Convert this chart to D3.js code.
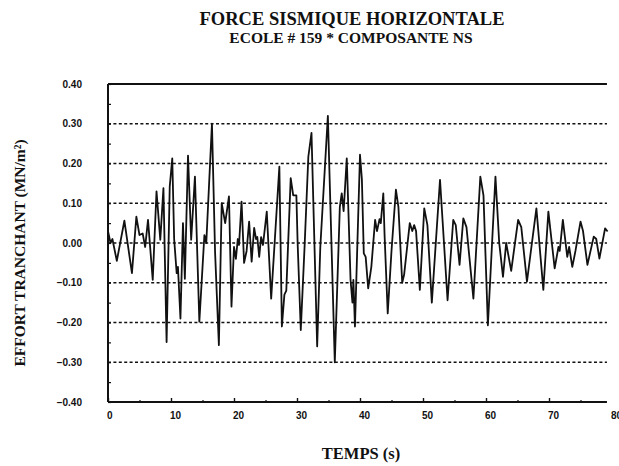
<!DOCTYPE html>
<html>
<head>
<meta charset="utf-8">
<script src="https://cdn.jsdelivr.net/npm/d3@7"></script>
<style>
    body { margin: 0; background: #fff; }
    #chart-area { width: 619px; height: 466px; }
    .serif { font-family: "Liberation Serif", "DejaVu Serif", serif; font-weight: bold; fill: #111; }
    .tick-lbl { font-family: "Liberation Sans", Arial, sans-serif; font-weight: bold; font-size: 10px; fill: #111; }
</style>
</head>
<body>
<div id="chart-area"></div>
<script>
// time (s) and shear force (MN/m2)
const temps = [0.0, 0.4, 0.7, 1.4, 2.6, 3.8, 4.5, 5.0, 5.5, 5.9, 6.35, 7.1, 7.7, 8.3, 8.8, 9.3, 9.8, 10.2,
    10.5, 10.9, 11.1, 11.5, 11.9, 12.2, 12.7, 13.2, 13.8, 14.5, 15.3, 15.6, 16.5, 17.0, 17.6, 18.05,
    18.6, 19.2, 19.6, 20.0, 20.3, 20.6, 20.8, 21.2, 21.6, 22.0, 22.4, 22.8, 23.2, 23.5, 23.7, 24.0,
    24.3, 24.6, 25.2, 25.9, 27.2, 27.6, 28.0, 28.3, 29.0, 29.4, 29.9, 30.1, 30.6, 31.2, 31.8, 32.3,
    33.2, 33.7, 34.9, 36.0, 36.8, 37.1, 37.4, 37.9, 38.5, 38.8, 38.95, 39.2, 40.0, 40.3, 40.6, 40.9,
    41.3, 41.8, 42.4, 42.7, 43.1, 43.3, 43.7, 43.9, 44.4, 45.0, 45.7, 46.1, 46.7, 47.0, 47.9, 48.3,
    48.6, 48.9, 49.5, 50.2, 50.7, 51.4, 52.7, 53.9, 54.8, 55.2, 55.8, 56.4, 56.9, 58.0, 59.1, 59.6,
    60.3, 61.5, 62.1, 62.7, 63.2, 64.0, 65.1, 65.6, 66.5, 68.0, 69.1, 69.9, 70.9, 71.5, 71.7, 72.2,
    72.9, 73.2, 73.7, 74.2, 75.0, 75.4, 76.1, 77.1, 77.5, 78.0, 78.9, 79.3];
const effort = [0.03, 0.00, 0.01, -0.045, 0.056, -0.076, 0.066, 0.02, 0.024, -0.01, 0.058, -0.093, 0.13, 0.008, 0.138, -0.249, 0.142, 0.213,
    0.01, -0.076, -0.06, -0.19, 0.05, -0.09, 0.22, 0.008, 0.167, -0.198, 0.02, 0.0, 0.30, -0.025, -0.257, 0.10,
    0.05, 0.117, -0.16, -0.01, -0.04, 0.01, -0.005, 0.104, -0.05, -0.02, 0.054, -0.047, 0.038, 0.01, 0.015, -0.035,
    0.015, -0.005, 0.079, -0.14, 0.192, -0.21, -0.13, -0.12, 0.163, 0.12, 0.12, 0.0, -0.219, -0.01, 0.217, 0.277,
    -0.26, -0.01, 0.32, -0.30, 0.091, 0.125, 0.08, 0.213, -0.093, -0.15, -0.093, -0.21, 0.222, 0.16, -0.026, -0.035,
    -0.114, -0.06, 0.058, 0.03, 0.06, 0.05, 0.125, 0.02, -0.177, -0.02, 0.134, 0.09, -0.10, -0.08, 0.05, 0.03,
    0.045, 0.03, -0.118, 0.087, 0.045, -0.15, 0.159, -0.144, 0.058, 0.045, -0.055, 0.062, 0.04, -0.14, 0.167, 0.12,
    -0.207, 0.167, 0.0, -0.085, 0.0, -0.07, 0.058, 0.04, -0.097, 0.087, -0.118, 0.079, -0.064, -0.01, -0.02, 0.058,
    -0.035, -0.01, -0.06, -0.02, 0.054, 0.03, -0.055, 0.016, 0.01, -0.039, 0.037, 0.029];

const yTicks = [0.40, 0.30, 0.20, 0.10, 0.00, -0.10, -0.20, -0.30, -0.40];
const yGrid = [0.30, 0.20, 0.10, 0.00, -0.10, -0.20, -0.30];
const xTicks = [0, 10, 20, 30, 40, 50, 60, 70, 80];

const titre = "FORCE SISMIQUE HORIZONTALE";
const sousTitre = "ECOLE # 159 * COMPOSANTE NS";
const xLabel = "TEMPS (s)";
const yLabel = "EFFORT TRANCHANT (MN/m²)";

function drawChart() {
    const W = 619, H = 466;

    var svg = d3.select("#chart-area")
        .append("svg")
        .attr("width", W)
        .attr("height", H);

    var x = d3.scaleLinear().domain([0, 80]).range([108, 612]);
    var y = d3.scaleLinear().domain([-0.4, 0.4]).range([402, 84]);
    var xEnd = x(79.2);

    // titles
    svg.append("text").attr("class", "serif")
        .attr("x", 352).attr("y", 25)
        .attr("text-anchor", "middle")
        .style("font-size", "18.5px")
        .text(titre);
    svg.append("text").attr("class", "serif")
        .attr("x", 351).attr("y", 43)
        .attr("text-anchor", "middle")
        .style("font-size", "15.5px")
        .text(sousTitre);

    // dotted grid
    svg.append("g").selectAll("line")
        .data(yGrid)
        .enter().append("line")
        .attr("x1", x(0)).attr("x2", xEnd)
        .attr("y1", d => y(d)).attr("y2", d => y(d))
        .attr("stroke", "#111")
        .attr("stroke-width", 1.4)
        .attr("stroke-dasharray", "3,2.4");

    // left axis, inward ticks every 0.05
    var yAxisCall = d3.axisRight(y)
        .tickValues(d3.range(-8, 9).map(i => i * 0.05))
        .tickSize(3)
        .tickFormat('');
    var yAxisGroup = svg.append("g")
        .attr("transform", `translate(${x(0)},0)`)
        .call(yAxisCall);
    yAxisGroup.select(".domain").remove();
    yAxisGroup.selectAll("line").attr("stroke", "#111").attr("stroke-width", 1.2);

    svg.append("g").selectAll("text")
        .data(yTicks)
        .enter().append("text")
        .attr("class", "tick-lbl")
        .attr("x", 82)
        .attr("y", d => y(d))
        .attr("dy", "0.35em")
        .attr("text-anchor", "end")
        .text(d => d3.format(".2f")(d));

    // bottom axis, inward ticks (major 10, minor 5)
    var xAxisCall = d3.axisTop(x)
        .tickValues(d3.range(0, 80, 10))
        .tickSize(4)
        .tickFormat('');
    var xAxisGroup = svg.append("g")
        .attr("transform", `translate(0,${y(-0.4)})`)
        .call(xAxisCall);
    xAxisGroup.select(".domain").remove();
    xAxisGroup.selectAll("line").attr("stroke", "#111").attr("stroke-width", 1.4);

    var xMinorCall = d3.axisTop(x)
        .tickValues(d3.range(5, 80, 10))
        .tickSize(2)
        .tickFormat('');
    var xMinorGroup = svg.append("g")
        .attr("transform", `translate(0,${y(-0.4)})`)
        .call(xMinorCall);
    xMinorGroup.select(".domain").remove();
    xMinorGroup.selectAll("line").attr("stroke", "#111").attr("stroke-width", 1.2);

    svg.append("g").selectAll("text")
        .data(xTicks)
        .enter().append("text")
        .attr("class", "tick-lbl")
        .attr("x", d => x(d) - 1)
        .attr("y", 419)
        .attr("text-anchor", "start")
        .text(d => d);

    // frame: left, bottom, top (no right side)
    var frame = svg.append("g").attr("stroke", "#111").attr("stroke-width", 2);
    frame.append("line").attr("x1", x(0)).attr("x2", x(0)).attr("y1", y(0.4)).attr("y2", y(-0.4));
    frame.append("line").attr("x1", x(0)).attr("x2", xEnd).attr("y1", y(-0.4)).attr("y2", y(-0.4));
    frame.append("line").attr("x1", x(0)).attr("x2", xEnd).attr("y1", y(0.4)).attr("y2", y(0.4));

    // the trace
    var pts = temps.map((t, i) => [t, effort[i]]);
    var line = d3.line()
        .x(d => x(d[0]))
        .y(d => y(d[1]))
        .curve(d3.curveLinear);
    svg.append("path")
        .datum(pts)
        .attr("d", line)
        .attr("fill", "none")
        .attr("stroke", "#111")
        .attr("stroke-width", 1.8)
        .attr("stroke-linejoin", "round");

    // axis titles
    svg.append("text").attr("class", "serif")
        .attr("x", 361).attr("y", 459)
        .attr("text-anchor", "middle")
        .style("font-size", "16.5px")
        .text(xLabel);
    svg.append("text").attr("class", "serif")
        .attr("transform", "translate(25,253) rotate(-90)")
        .attr("text-anchor", "middle")
        .style("font-size", "15.5px")
        .text(yLabel);
}

drawChart();
</script>
</body>
</html>
